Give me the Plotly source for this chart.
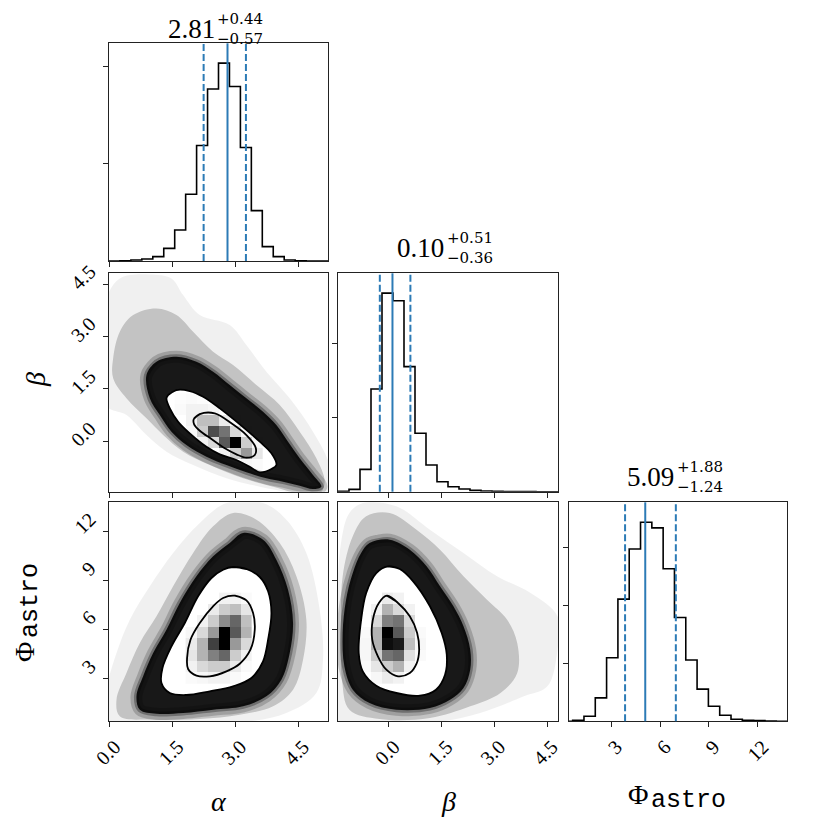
import numpy as np
import plotly.graph_objects as go

SERIF = "Liberation Serif"
WIDE_SERIF = "DejaVu Serif"
MONO = "Liberation Mono"
BLUE = "#2c7bb6"
PAGE = 8      # browser body margin
SIZE = 823    # figure size so that page = 8 + figure = 831

# bin edges of the 1d / 2d histograms
ALPHA_EDGES = np.linspace(-0.02, 5.21, 21)
BETA_EDGES = np.linspace(-1.45, 4.81, 21)
PHI_EDGES = np.linspace(-0.065, 13.835, 21)

# 1d histogram counts
ALPHA_COUNTS = [0, 3, 10, 21, 45, 130, 319, 686, 1187, 1767, 2034, 1794, 1166, 518, 148, 45, 10, 3, 0, 0]
BETA_COUNTS = [4, 31, 301, 1384, 2674, 2571, 1685, 787, 360, 135, 67, 36, 18, 9, 4, 3, 1, 1, 0, 0]
PHI_COUNTS = [0, 17, 87, 405, 1098, 2110, 2977, 3439, 3341, 2636, 1792, 1058, 555, 260, 104, 35, 17, 12, 6, 0]

# 16/50/84 quantiles
ALPHA_Q = [2.24, 2.81, 3.25]
BETA_Q = [-0.26, 0.10, 0.61]
PHI_Q = [3.85, 5.09, 6.97]
TITLES = [("2.81", "+0.44", "−0.57"), ("0.10", "+0.51", "−0.36"), ("5.09", "+1.88", "−1.24")]

ALPHA_RANGE = [-0.02, 5.21]
BETA_RANGE = [-1.45, 4.81]
PHI_RANGE = [0.405, 13.8]
AB_TICKS = [0.0, 1.5, 3.0, 4.5]
AB_LABELS = ["0.0", "1.5", "3.0", "4.5"]
PHI_TICKS = [3, 6, 9, 12]
PHI_LABELS = ["3", "6", "9", "12"]

# beta vs alpha
BA_OUTER = [(1.392, 1.321), (1.591, 1.464), (1.909, 1.435), (2.228, 1.272), (2.625, 0.939), (3.103, 0.481),
            (3.580, -0.017), (3.859, -0.350), (3.978, -0.685), (3.859, -0.800), (3.580, -0.894), (3.341, -0.734),
            (3.023, -0.542), (2.625, -0.379), (2.307, -0.161), (1.909, 0.223), (1.631, 0.556), (1.432, 0.939),
            (1.352, 1.226)]
BA_INNER = [(2.005, 0.633), (2.148, 0.776), (2.506, 0.796), (2.904, 0.510), (3.262, 0.175), (3.484, -0.189),
            (3.461, -0.398), (3.262, -0.476), (3.023, -0.379), (2.745, -0.207), (2.427, 0.060), (2.148, 0.298),
            (2.013, 0.481)]
BA_DENSE = [(0.875, 1.894), (1.114, 2.276), (1.591, 2.419), (2.068, 2.276), (2.466, 1.990), (2.864, 1.608),
            (3.261, 1.226), (3.659, 0.843), (3.977, 0.461), (4.256, -0.016), (4.534, -0.494), (4.852, -0.971),
            (5.051, -1.305), (4.852, -1.372), (4.534, -1.277), (4.136, -1.162), (3.739, -1.067), (3.261, -0.895),
            (2.784, -0.685), (2.307, -0.446), (1.829, -0.112), (1.471, 0.270), (1.193, 0.748), (0.954, 1.226)]
BA_MEDIUM = [(0.079, 2.372), (0.238, 3.136), (0.557, 3.613), (1.114, 3.804), (1.591, 3.613), (1.989, 3.136),
             (2.466, 2.563), (2.943, 2.181), (3.500, 1.608), (4.057, 1.035), (4.534, 0.270), (4.932, -0.494),
             (5.131, -1.162), (5.012, -1.5), (4.534, -1.5), (3.898, -1.305), (3.182, -1.067), (2.386, -0.685),
             (1.750, -0.303), (1.273, 0.175), (0.875, 0.652), (0.397, 1.226), (0.079, 1.799)]
BA_FAINT = [(-0.1, 3.995), (0.238, 4.664), (0.954, 4.779), (1.471, 4.664), (1.750, 4.186), (2.148, 3.613),
            (2.864, 3.327), (3.261, 2.754), (3.739, 1.990), (4.296, 1.226), (4.852, 0.270), (5.250, -0.685),
            (5.3, -1.5), (4.534, -1.5), (3.579, -1.305), (2.784, -1.067), (1.989, -0.685), (1.352, -0.303),
            (0.875, 0.175), (0.397, 0.748), (-0.1, 1.035)]
BA_DENS = [[0, 0, 0, 0, 0, 0, 0.03, 0.02],
           [0, 0, 0, 0, 0.05, 0.2, 0.4, 0.1],
           [0, 0, 0.05, 0.15, 0.65, 1.0, 0.2, 0.03],
           [0, 0.03, 0.2, 0.7, 0.55, 0.15, 0.03, 0],
           [0, 0.05, 0.25, 0.25, 0.08, 0.02, 0, 0],
           [0.02, 0.05, 0.05, 0.03, 0, 0, 0, 0],
           [0.01, 0.02, 0.01, 0, 0, 0, 0, 0]]

# phi vs alpha
PA_OUTER = [(2.943, 9.842), (3.262, 9.720), (3.580, 9.231), (3.779, 8.356), (3.859, 7.029), (3.779, 5.396),
            (3.659, 4.075), (3.381, 3.053), (2.943, 2.546), (2.387, 2.240), (1.830, 2.014), (1.432, 2.136),
            (1.233, 2.748), (1.257, 3.665), (1.472, 4.992), (1.790, 6.417), (2.108, 8.050), (2.427, 9.169),
            (2.705, 9.677)]
PA_INNER = [(2.983, 8.087), (3.262, 7.806), (3.421, 7.029), (3.461, 6.007), (3.357, 4.784), (3.103, 3.928),
            (2.785, 3.463), (2.387, 3.157), (2.069, 3.198), (1.869, 3.604), (1.845, 4.277), (1.926, 5.396),
            (2.148, 6.417), (2.465, 7.439), (2.705, 7.946)]
PA_DENSE = [(2.864, 11.310), (3.182, 11.922), (3.659, 11.514), (3.977, 10.291), (4.256, 8.456), (4.375, 6.417),
            (4.296, 4.582), (4.097, 2.951), (3.739, 1.932), (3.182, 1.320), (2.466, 1.116), (1.750, 0.912),
            (1.114, 0.871), (0.716, 1.116), (0.636, 1.932), (0.795, 3.155), (1.034, 4.582), (1.352, 6.009),
            (1.670, 7.640), (2.068, 9.271), (2.466, 10.494)]
PA_MEDIUM = [(2.943, 13.145), (3.500, 12.737), (4.057, 11.310), (4.455, 9.271), (4.693, 6.621), (4.614, 4.174),
             (4.375, 2.340), (3.898, 1.320), (3.102, 0.810), (2.148, 0.545), (0.955, 0.504), (0.238, 0.708),
             (0.159, 1.728), (0.397, 3.359), (0.716, 5.194), (1.114, 6.825), (1.511, 8.660), (1.989, 10.698),
             (2.466, 12.329)]
PA_FAINT = [(2.784, 13.756), (3.659, 13.756), (4.216, 12.737), (4.693, 10.698), (5.012, 7.232), (5.091, 4.174),
            (4.932, 2.136), (4.216, 0.912), (2.943, 0.3), (-0.1, 0.3), (-0.1, 2.136), (0.159, 4.582),
            (0.477, 6.621), (0.955, 8.660), (1.511, 10.698), (2.148, 12.533)]
PA_DENS = [[0.02, 0.03, 0.05, 0.05, 0.02, 0],
           [0.05, 0.15, 0.2, 0.2, 0.08, 0.02],
           [0.1, 0.3, 0.5, 0.6, 0.2, 0.05],
           [0.08, 0.3, 0.75, 1.0, 0.4, 0.15],
           [0.03, 0.15, 0.4, 1.0, 0.65, 0.3],
           [0, 0.05, 0.2, 0.45, 0.6, 0.25],
           [0, 0, 0.08, 0.2, 0.25, 0.1],
           [0, 0, 0, 0.05, 0.05, 0.02]]

# phi vs beta
PB_OUTER = [(-0.029, 9.885), (0.307, 9.720), (0.688, 8.968), (1.166, 7.439), (1.501, 5.806), (1.645, 4.478),
            (1.596, 3.255), (1.338, 2.338), (0.880, 1.971), (0.212, 2.136), (-0.361, 2.582), (-0.745, 3.463),
            (-0.860, 4.583), (-0.791, 6.619), (-0.648, 8.252), (-0.361, 9.475)]
PB_INNER = [(-0.057, 8.087), (0.258, 7.640), (0.593, 6.827), (0.802, 5.806), (0.860, 4.784), (0.785, 3.928),
            (0.593, 3.359), (0.258, 3.157), (-0.074, 3.561), (-0.315, 4.381), (-0.476, 5.396), (-0.458, 6.619),
            (-0.287, 7.640)]
PB_DENSE = [(-0.553, 11.310), (0.020, 11.514), (0.593, 10.902), (1.071, 9.883), (1.453, 8.660), (1.835, 7.436),
            (2.121, 6.213), (2.312, 4.786), (2.312, 3.563), (2.121, 2.441), (1.739, 1.728), (1.166, 1.218),
            (0.211, 1.116), (-0.553, 1.524), (-1.030, 2.339), (-1.269, 3.767), (-1.317, 5.805), (-1.221, 7.844),
            (-1.030, 9.475), (-0.792, 10.698)]
PB_MEDIUM = [(-0.648, 12.941), (0.020, 13.145), (0.784, 12.125), (1.453, 10.902), (2.121, 9.271), (2.790, 7.844),
             (3.363, 6.621), (3.650, 5.194), (3.650, 3.359), (3.172, 2.136), (2.312, 1.320), (1.166, 0.607),
             (-0.266, 0.545), (-1.126, 1.116), (-1.336, 2.951), (-1.365, 6.213), (-1.317, 9.271), (-1.030, 11.718)]
PB_FAINT = [(-0.744, 13.756), (0.211, 13.553), (1.166, 12.125), (2.121, 10.698), (3.077, 9.271), (4.032, 8.252),
            (4.796, 6.825), (4.796, 4.786), (4.509, 2.543), (3.841, 1.932), (2.599, 0.912), (1.166, 0.3),
            (-1.5, 0.3), (-1.5, 6.213), (-1.365, 11.310), (-1.126, 13.145)]
PB_DENS = [[0, 0.03, 0.08, 0.05, 0, 0],
           [0.02, 0.1, 0.2, 0.3, 0.05, 0],
           [0.03, 0.2, 0.55, 0.6, 0.12, 0.02],
           [0.03, 0.3, 0.95, 0.9, 0.25, 0.03],
           [0.02, 0.3, 1.0, 0.65, 0.2, 0.02],
           [0, 0.15, 0.5, 0.55, 0.15, 0],
           [0, 0.05, 0.3, 0.15, 0.05, 0],
           [0, 0, 0.08, 0.05, 0, 0]]

# panel edges in page pixels
COL_PX = [(109, 328), (338, 558), (569, 787)]
ROW_PX = [(43.3, 261), (273.3, 491.7), (502.3, 721.3)]


def fx(px):
    return (px - PAGE) / SIZE


def fy(py):
    return 1 - (py - PAGE) / SIZE


COL_X = [(fx(a), fx(b)) for a, b in COL_PX]
ROW_Y = [(fy(b), fy(a)) for a, b in ROW_PX]


def signed_area(pts):
    return sum(x0 * y1 - x1 * y0 for (x0, y0), (x1, y1) in zip(pts, pts[1:] + pts[:1]))


def donut(outer, hole):
    # outer ring + reversed hole so the white contour region stays open
    if signed_area(outer) * signed_area(hole) > 0:
        hole = hole[::-1]
    a = outer + [outer[0]]
    b = hole + [hole[0]]
    xs = [p[0] for p in a] + [None] + [p[0] for p in b]
    ys = [p[1] for p in a] + [None] + [p[1] for p in b]
    return xs, ys


def closed_line(pts, xa, ya, color, width):
    ring = pts + [pts[0], pts[1]]
    return go.Scatter(x=[p[0] for p in ring], y=[p[1] for p in ring], mode="lines",
                      line=dict(color=color, width=width, shape="spline", smoothing=1),
                      xaxis=xa, yaxis=ya, hoverinfo="skip", showlegend=False)


def hist_trace(edges, counts, xa, ya):
    e = list(edges)
    xs = [e[0]] + e[:20] + [e[20], e[20]]
    ys = [0] + list(counts) + [counts[-1], 0]
    return go.Scatter(x=xs, y=ys, mode="lines", line=dict(color="black", width=1.6, shape="hv"),
                      xaxis=xa, yaxis=ya, hoverinfo="skip", showlegend=False)


def panel_2d(fig, xa, ya, xedges, yedges, dens, faint, medium, dense, outer, inner):
    fig.add_trace(go.Heatmap(x=list(xedges), y=list(yedges), z=dens, zmin=0, zmax=1,
                             colorscale=[[0, "white"], [1, "black"]], showscale=False,
                             xaxis=xa, yaxis=ya, hoverinfo="skip"))
    for pts, col in [(faint, "rgba(0,0,0,0.06)"), (medium, "rgba(0,0,0,0.19)"), (dense, "rgba(0,0,0,0.88)")]:
        xs, ys = donut(pts, outer)
        fig.add_trace(go.Scatter(x=xs, y=ys, mode="lines", fill="toself", fillcolor=col,
                                 line=dict(width=0, shape="spline", smoothing=1),
                                 xaxis=xa, yaxis=ya, hoverinfo="skip", showlegend=False))
    # soften the edge of the dense part of the point cloud
    fig.add_trace(closed_line(dense, xa, ya, "rgba(0,0,0,0.18)", 12))
    fig.add_trace(closed_line(dense, xa, ya, "rgba(0,0,0,0.3)", 5))
    for pts in [outer, inner]:
        fig.add_trace(closed_line(pts, xa, ya, "black", 1.8))


fig = go.Figure()

fig.add_trace(hist_trace(ALPHA_EDGES, ALPHA_COUNTS, "x", "y"))
fig.add_trace(hist_trace(BETA_EDGES, BETA_COUNTS, "x3", "y3"))
fig.add_trace(hist_trace(PHI_EDGES, PHI_COUNTS, "x6", "y6"))

panel_2d(fig, "x2", "y2", ALPHA_EDGES[6:15], BETA_EDGES[2:10], BA_DENS,
         BA_FAINT, BA_MEDIUM, BA_DENSE, BA_OUTER, BA_INNER)
panel_2d(fig, "x4", "y4", ALPHA_EDGES[7:14], PHI_EDGES[4:13], PA_DENS,
         PA_FAINT, PA_MEDIUM, PA_DENSE, PA_OUTER, PA_INNER)
panel_2d(fig, "x5", "y5", BETA_EDGES[2:9], PHI_EDGES[4:13], PB_DENS,
         PB_FAINT, PB_MEDIUM, PB_DENSE, PB_OUTER, PB_INNER)


def axis(domain, rng, ticks, labels, show, anchor, shift=0, standoff=0):
    return dict(domain=list(domain), range=rng, tickvals=ticks, ticktext=labels, showticklabels=show,
                anchor=anchor, showline=True, mirror=True, linecolor="#222", linewidth=1.2,
                ticks="outside", ticklen=5, tickwidth=1.2, tickcolor="#222", showgrid=False, zeroline=False,
                tickangle=-45, ticklabelshift=shift, ticklabelstandoff=standoff, automargin=False,
                tickfont=dict(family=SERIF, size=20, color="black"))


layout = dict(
    xaxis=axis(COL_X[0], ALPHA_RANGE, AB_TICKS, AB_LABELS, False, "y"),
    yaxis=axis(ROW_Y[0], [0, 1.1 * max(ALPHA_COUNTS)], [1000, 2000], None, False, "x"),
    xaxis2=axis(COL_X[0], ALPHA_RANGE, AB_TICKS, AB_LABELS, False, "y2"),
    yaxis2=axis(ROW_Y[1], BETA_RANGE, AB_TICKS, AB_LABELS, True, "x2", -15, 9),
    xaxis3=axis(COL_X[1], BETA_RANGE, AB_TICKS, AB_LABELS, False, "y3"),
    yaxis3=axis(ROW_Y[1], [0, 1.1 * max(BETA_COUNTS)], [1000, 2000], None, False, "x3"),
    xaxis4=axis(COL_X[0], ALPHA_RANGE, AB_TICKS, AB_LABELS, True, "y4", 5),
    yaxis4=axis(ROW_Y[2], PHI_RANGE, PHI_TICKS, PHI_LABELS, True, "x4", -15, 9),
    xaxis5=axis(COL_X[1], BETA_RANGE, AB_TICKS, AB_LABELS, True, "y5", 5),
    yaxis5=axis(ROW_Y[2], PHI_RANGE, PHI_TICKS, PHI_LABELS, False, "x5"),
    xaxis6=axis(COL_X[2], PHI_RANGE, PHI_TICKS, PHI_LABELS, True, "y6", 5),
    yaxis6=axis(ROW_Y[2], [0, 1.1 * max(PHI_COUNTS)], [1000, 2000, 3000], None, False, "x6"),
)

# quantile lines on the diagonal
shapes = []
for q, xa, ya in [(ALPHA_Q, "x", "y"), (BETA_Q, "x3", "y3"), (PHI_Q, "x6", "y6")]:
    for i, v in enumerate(q):
        shapes.append(dict(type="line", xref=xa, yref=ya + " domain", x0=v, x1=v, y0=0, y1=1,
                           line=dict(color=BLUE, width=2, dash="solid" if i == 1 else "7px,3px")))

annotations = []
for (main, up, down), i in zip(TITLES, range(3)):
    mid = sum(COL_PX[i]) / 2
    centre = max(ROW_PX[i][0] - 25, 29)   # the first title has to stay inside the page
    common = dict(xref="paper", yref="paper", showarrow=False, yanchor="middle", borderpad=0)
    annotations.append(dict(common, text=main, x=fx(mid - 3), y=fy(centre), xanchor="right",
                            font=dict(family=SERIF, size=27, color="black")))
    annotations.append(dict(common, text=up + "<br>" + down, x=fx(mid - 2), y=fy(centre), xanchor="left",
                            align="left", font=dict(family=WIDE_SERIF, size=15, color="black")))


def label(text, x, y, size, family=SERIF, angle=0):
    return dict(text=text, x=fx(x), y=fy(y), xref="paper", yref="paper", showarrow=False,
                xanchor="center", yanchor="middle", textangle=angle, borderpad=0,
                font=dict(family=family, size=size, color="black"))


annotations += [
    label("<i>α</i>", 219, 801, 28),
    label("<i>β</i>", 448, 801, 28),
    label("Φ", 638, 794, 28),
    label("astro", 688, 800, 25, MONO),
    label("<i>β</i>", 35, 380, 28, angle=-90),
    label("Φ", 24, 652, 28, angle=-90),
    label("astro", 30, 601, 25, MONO, angle=-90),
]

fig.update_layout(layout)
fig.update_layout(width=SIZE, height=SIZE, margin=dict(l=0, r=0, t=0, b=0, autoexpand=False),
                  plot_bgcolor="white", paper_bgcolor="white", showlegend=False,
                  shapes=shapes, annotations=annotations)

fig.write_html("out.html")
